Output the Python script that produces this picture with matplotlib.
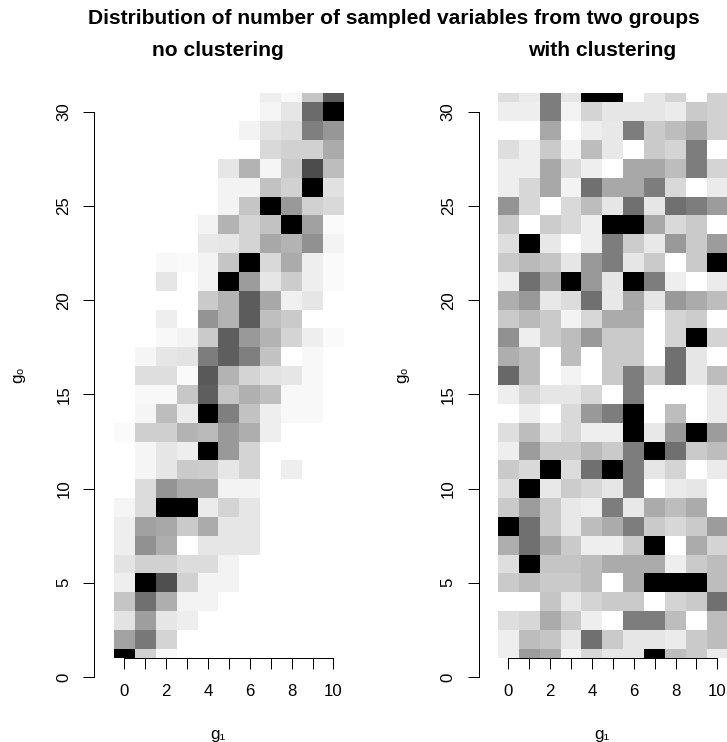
import numpy as np
import matplotlib
matplotlib.use('Agg')
import matplotlib.pyplot as plt

plt.rcParams['font.family'] = ['Liberation Sans', 'DejaVu Sans']

W, H = 727, 742

g1_vals = list(range(11))
g0_vals = list(range(31, 0, -1))
x_tick_labels = ['0', '', '2', '', '4', '', '6', '', '8', '', '10']
y_ticks = [0, 5, 10, 15, 20, 25, 30]

main_title = 'Distribution of number of sampled variables from two groups'
left_title = 'no clustering'
right_title = 'with clustering'

# shade of each cell (0 white, 100 black), rows from g0=31 down to g0=1
no_clustering = [
    [0, 0, 0, 0, 0, 0, 0, 7, 3, 23, 65],
    [0, 0, 0, 0, 0, 0, 0, 4, 10, 58, 100],
    [0, 0, 0, 0, 0, 0, 5, 11, 14, 50, 41],
    [0, 0, 0, 0, 0, 0, 0, 15, 18, 18, 33],
    [0, 0, 0, 0, 0, 10, 30, 4, 21, 70, 26],
    [0, 0, 0, 0, 0, 5, 5, 24, 18, 100, 12],
    [0, 0, 0, 0, 0, 5, 23, 100, 40, 18, 15],
    [0, 0, 0, 0, 5, 30, 17, 24, 100, 37, 2],
    [0, 0, 0, 0, 9, 10, 17, 34, 30, 43, 5],
    [0, 0, 3, 2, 5, 23, 100, 15, 33, 7, 2],
    [0, 0, 10, 0, 5, 100, 39, 10, 20, 7, 2],
    [0, 0, 0, 0, 21, 30, 64, 34, 6, 10, 0],
    [0, 0, 7, 0, 42, 30, 64, 25, 21, 0, 0],
    [0, 0, 3, 5, 21, 63, 40, 30, 17, 7, 2],
    [0, 4, 10, 11, 51, 63, 50, 24, 0, 3, 0],
    [0, 13, 13, 2, 65, 30, 17, 11, 10, 3, 0],
    [0, 3, 3, 22, 63, 23, 31, 25, 3, 3, 0],
    [0, 4, 26, 8, 100, 50, 24, 7, 3, 3, 0],
    [2, 19, 19, 30, 27, 40, 32, 7, 0, 0, 0],
    [0, 4, 10, 7, 100, 40, 17, 0, 0, 0, 0],
    [0, 4, 10, 21, 20, 10, 17, 0, 7, 0, 0],
    [0, 14, 42, 33, 33, 5, 5, 0, 0, 0, 0],
    [4, 14, 100, 100, 8, 17, 10, 0, 0, 0, 0],
    [7, 37, 34, 21, 33, 10, 10, 0, 0, 0, 0],
    [7, 43, 32, 0, 10, 10, 10, 0, 0, 0, 0],
    [11, 18, 18, 14, 14, 5, 0, 0, 0, 0, 0],
    [7, 100, 69, 18, 5, 5, 0, 0, 0, 0, 0],
    [23, 56, 32, 5, 5, 0, 0, 0, 0, 0, 0],
    [11, 38, 10, 7, 0, 0, 0, 0, 0, 0, 0],
    [36, 53, 17, 0, 0, 0, 0, 0, 0, 0, 0],
    [100, 18, 3, 0, 0, 0, 0, 0, 0, 0, 0],
]

with_clustering = [
    [13, 8, 51, 10, 100, 100, 0, 10, 17, 0, 18],
    [7, 7, 51, 5, 17, 10, 10, 10, 8, 21, 18],
    [0, 0, 34, 0, 7, 9, 51, 21, 26, 33, 18],
    [13, 7, 21, 5, 26, 9, 0, 21, 17, 51, 0],
    [7, 7, 34, 14, 7, 0, 34, 34, 26, 51, 17],
    [7, 16, 34, 5, 56, 34, 34, 51, 15, 0, 8],
    [42, 16, 0, 15, 26, 10, 56, 10, 56, 51, 39],
    [21, 0, 20, 15, 7, 100, 100, 34, 15, 21, 0],
    [13, 100, 9, 0, 7, 51, 20, 9, 40, 21, 39],
    [21, 27, 23, 10, 40, 51, 10, 21, 0, 21, 100],
    [7, 56, 34, 100, 40, 10, 100, 51, 7, 0, 8],
    [32, 40, 9, 14, 56, 9, 34, 10, 40, 33, 26],
    [21, 27, 21, 5, 16, 33, 33, 0, 17, 20, 0],
    [43, 7, 21, 26, 40, 21, 21, 0, 17, 100, 17],
    [32, 26, 0, 26, 0, 21, 21, 0, 56, 10, 0],
    [59, 26, 0, 5, 0, 21, 51, 21, 56, 10, 26],
    [7, 16, 10, 10, 16, 0, 51, 0, 0, 0, 8],
    [0, 7, 0, 15, 40, 51, 100, 0, 26, 0, 8],
    [13, 26, 9, 15, 7, 7, 100, 9, 40, 100, 39],
    [7, 39, 21, 21, 27, 21, 51, 100, 56, 21, 26],
    [21, 15, 100, 14, 56, 100, 51, 10, 17, 0, 8],
    [13, 100, 9, 20, 16, 10, 51, 0, 8, 10, 0],
    [21, 39, 21, 9, 7, 51, 9, 33, 26, 33, 0],
    [100, 56, 21, 9, 26, 33, 51, 21, 16, 21, 39],
    [32, 56, 34, 21, 7, 7, 21, 100, 0, 33, 17],
    [13, 100, 23, 23, 26, 33, 33, 33, 7, 21, 26],
    [21, 26, 21, 21, 26, 0, 33, 100, 100, 100, 26],
    [0, 0, 23, 9, 17, 21, 21, 0, 17, 21, 56],
    [13, 16, 33, 21, 7, 0, 51, 51, 26, 0, 26],
    [7, 26, 23, 9, 56, 21, 10, 10, 8, 21, 26],
    [7, 39, 33, 5, 16, 10, 10, 100, 26, 21, 8],
]


def panel(px_left, px_right, x_zero, title, shades):
    # pixel box -> figure fractions, y=0 sits at 677 and y=31 at 93
    ax = fig.add_axes([px_left / W, 1 - 677 / H, (px_right - px_left) / W, (677 - 93) / H])
    ax.patch.set_alpha(0)
    x_edges = np.arange(len(g1_vals) + 1) - 0.5
    y_edges = np.clip(np.arange(0.5, 32), 1, 31)
    shade_grid = np.array(shades)[::-1]
    ax.pcolormesh(x_edges, y_edges, shade_grid, cmap='gray_r', vmin=0, vmax=100,
                  linewidth=0, antialiased=False, rasterized=True)
    ax.set_xlim((px_left - x_zero) / 20.9, (px_right - x_zero) / 20.9)
    ax.set_ylim(0, 31)
    for side in ['top', 'right']:
        ax.spines[side].set_visible(False)
    ax.spines['left'].set_bounds(0, 30)
    ax.spines['bottom'].set_position(('data', 1))
    ax.spines['bottom'].set_bounds(0, 10)
    ax.spines['left'].set_linewidth(1)
    ax.spines['bottom'].set_linewidth(1)
    ax.set_xticks(g1_vals, x_tick_labels)
    ax.set_yticks(y_ticks, [str(v) for v in y_ticks])
    ax.tick_params(length=11, width=1, labelsize=16.8)
    ax.tick_params(axis='x', pad=15)
    ax.tick_params(axis='y', labelrotation=90, pad=12)
    for lab in ax.get_yticklabels():
        lab.set_va('center')
    ax.set_axisbelow(False)
    x_mid = x_zero + 5 * 20.9 - 11
    fig.text(x_mid / W, 1 - 50 / H, title, ha='center', va='center', fontsize=21, fontweight='bold')
    fig.text(x_mid / W, 1 - 735 / H, 'g₁', ha='center', va='center', fontsize=17)
    fig.text((px_left - 77) / W, 1 - 375 / H, 'g₀', rotation=90, ha='center', va='center', fontsize=17)
    return ax


fig = plt.figure(figsize=(W / 72, H / 72), dpi=72)
panel(94.3, 344, 124.4, left_title, no_clustering)
panel(478.7, 727, 508.3, right_title, with_clustering)
fig.text(394 / W, 1 - 18 / H, main_title, ha='center', va='center', fontsize=21, fontweight='bold')
fig.savefig('out.png', dpi=72)
